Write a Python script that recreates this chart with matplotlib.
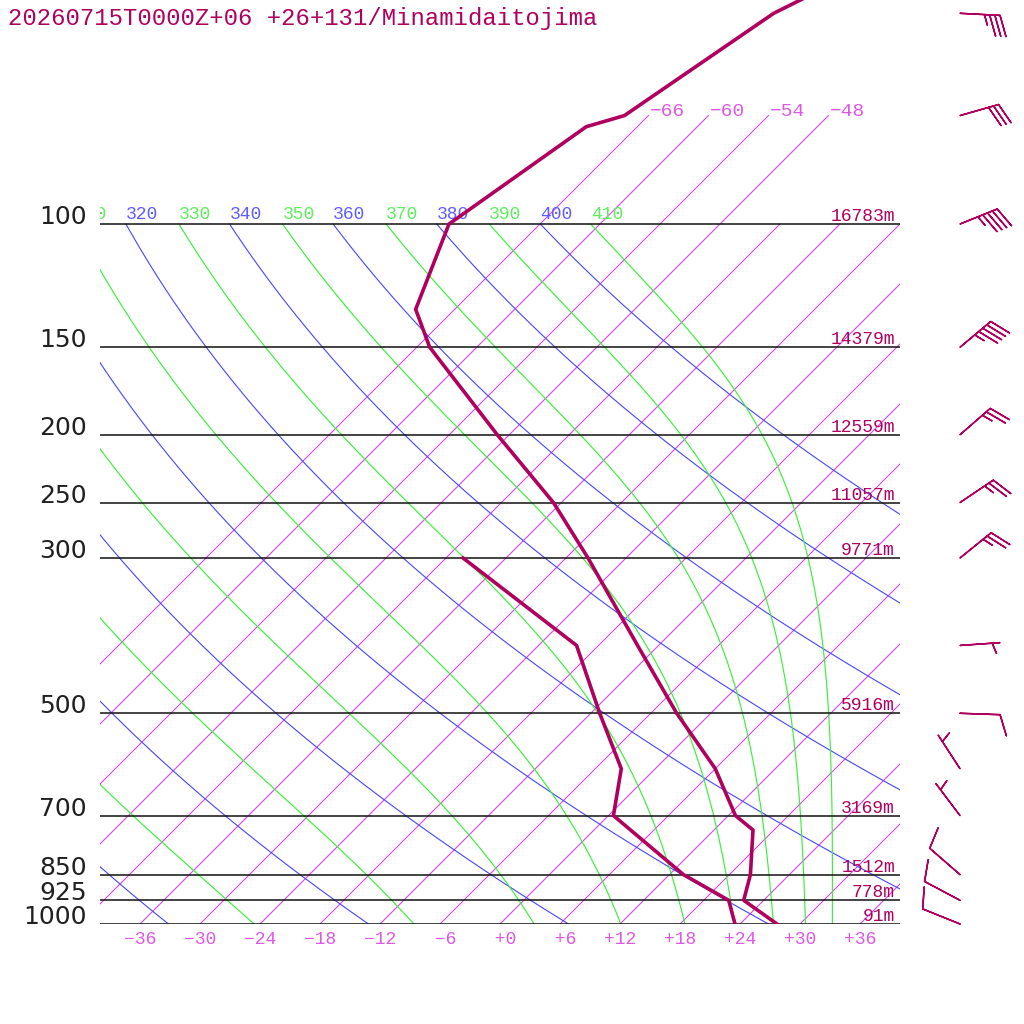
import numpy as np
import matplotlib
matplotlib.use("Agg")
import matplotlib.pyplot as plt
from matplotlib import transforms
from matplotlib.ticker import NullLocator

TITLE = "20260715T0000Z+06 +26+131/Minamidaitojima"

# sounding (hPa, degC)
TEMP_P = [1000, 925, 850, 734, 700, 600, 500, 400, 300, 250, 200, 150, 132.4, 100, 72.6, 70, 50, 30]
TEMP_C = [27.7, 22.0, 20.1, 15.9, 12.7, 6.0, -3.4, -14.1, -27.8, -36.8, -49.2, -64.7, -69.9, -75.1, -71.1, -68.4, -63.7, -48.0]
DEW_P = [1000, 925, 850, 700, 600, 500, 400, 300]
DEW_C = [23.5, 20.5, 13.4, 0.5, -3.4, -11.1, -20.2, -40.3]

# mandatory levels and geopotential heights (m)
LEVELS = [1000, 925, 850, 700, 500, 300, 250, 200, 150, 100]
HEIGHTS = [91, 778, 1512, 3169, 5916, 9771, 11057, 12559, 14379, 16783]

# winds: direction (deg, from), speed (kt)
WIND_P = [1000, 925, 850, 700, 600, 500, 400, 300, 250, 200, 150, 100, 70, 50]
WIND_DIR = [292, 298, 311, 323, 327, 92, 86, 51, 56, 49, 50, 68, 74, 93]
WIND_KT = [10, 10, 10, 5, 5, 10, 5, 25, 25, 25, 45, 45, 30, 35]

# background lines
ISOTHERMS = list(range(-66, 37, 6))
ISO_LABELLED = [-66, -60, -54, -48]
DRY_THETA = list(range(240, 401, 20))
MOIST_THETAE = list(range(250, 411, 20))
XTICKS = list(range(-36, 37, 6))

CRIMSON = "#B0005E"
ISO_COL = "#DA44EC"
ISO_TXT = "#DD58E4"
DRY_COL = "#4646FF"
DRY_TXT = "#5E5EFF"
WET_COL = "#3CF03C"
WET_TXT = "#5CF05C"
MONO = "Liberation Mono"

SKEW = 30.4          # degC per e-fold of pressure (45 deg isotherms)
P_TOP = 1000 * np.exp(-924 / 304)


def skew_x(t, p):
    return np.asarray(t, float) + SKEW * np.log(1000.0 / np.asarray(p, float))


def dry_adiabat(theta, p):
    return theta * (p / 1000.0) ** 0.2857 - 273.15


def thetae_sat(tk, p):
    # Bolton (1980) for a saturated parcel
    tc = tk - 273.15
    es = 6.112 * np.exp(17.67 * tc / (tc + 243.5))
    r = 0.622 * es / (p - es)
    return (tk * (1000.0 / p) ** (0.2854 * (1 - 0.28 * r))
            * np.exp((3.376 / tk - 0.00254) * r * 1000 * (1 + 0.81 * r)))


def moist_adiabat(thetae, p):
    lo = np.full_like(p, 150.0)
    hi = np.full_like(p, 310.0)
    for _ in range(60):
        mid = 0.5 * (lo + hi)
        above = thetae_sat(mid, p) > thetae
        hi = np.where(above, mid, hi)
        lo = np.where(above, lo, mid)
    return 0.5 * (lo + hi) - 273.15


def top_label(ax, x, text, color, trans):
    # labels sit on the 100 hPa line; the ones left of the frame are clipped
    if x < -44:
        return
    ax.text(x, 100, text, transform=trans, color=color, family=MONO,
            fontsize=13, ha="left", va="baseline", clip_on=True)


def main():
    fig = plt.figure(figsize=(10.24, 10.24), dpi=100)
    ax = fig.add_axes([100 / 1024, 100 / 1024, 800 / 1024, 924 / 1024])
    ax.set_yscale("log")
    ax.set_ylim(1000, P_TOP)
    ax.set_xlim(-40, 40)
    for s in ax.spines.values():
        s.set_visible(False)

    up5 = transforms.offset_copy(ax.transData, fig=fig, x=0, y=5, units="dots")
    up3 = transforms.offset_copy(ax.transData, fig=fig, x=0, y=3, units="dots")

    # isotherms
    for t in ISOTHERMS:
        ptop = 70 if t in ISO_LABELLED else 100
        pp = np.array([1000, ptop])
        ax.plot(skew_x([t, t], pp), pp, color=ISO_COL, lw=0.8, zorder=1)
    for t in ISO_LABELLED:
        ax.text(skew_x(t, 70) + 0.1, 70, f"{t:+d}".replace("-", "\u2212"),
                color=ISO_TXT, family=MONO, fontsize=14, ha="left", va="baseline")

    pgrid = np.geomspace(1000, 100, 240)
    # dry adiabats
    for th in DRY_THETA:
        ax.plot(skew_x(dry_adiabat(th, pgrid), pgrid), pgrid, color=DRY_COL, lw=0.8, zorder=2)
        top_label(ax, float(skew_x(dry_adiabat(th, 100.0), 100)), str(th), DRY_TXT, up5)
    # saturated adiabats
    for th in MOIST_THETAE:
        tm = moist_adiabat(th, pgrid)
        ax.plot(skew_x(tm, pgrid), pgrid, color=WET_COL, lw=0.85, zorder=2)
        top_label(ax, float(skew_x(tm[-1], 100)), str(th), WET_TXT, up5)

    # pressure levels and heights
    for p, h in zip(LEVELS, HEIGHTS):
        ax.axhline(p, color="#111111", lw=1.1, zorder=3)
        ax.text(39.5, p, f"{h}m", transform=up3, color=CRIMSON, family=MONO,
                fontsize=13, ha="right", va="baseline", zorder=4)

    # profiles
    ax.plot(skew_x(TEMP_C, TEMP_P), TEMP_P, color=CRIMSON, lw=2.6, zorder=5)
    ax.plot(skew_x(DEW_C, DEW_P), DEW_P, color=CRIMSON, lw=2.6, zorder=5)

    # wind barbs
    wd = np.deg2rad(WIND_DIR)
    spd = np.array(WIND_KT, float)
    u = -spd * np.sin(wd)
    v = -spd * np.cos(wd)
    ax.barbs(np.full(len(WIND_P), 46.0), WIND_P, u, v, length=7.6,
             color=CRIMSON, linewidth=1.1, clip_on=False, zorder=6,
             sizes=dict(spacing=0.13, height=0.52, width=0.35))

    # axes labels
    ax.set_yticks(LEVELS)
    ax.set_yticklabels([str(p) for p in LEVELS])
    ax.yaxis.set_minor_locator(NullLocator())
    ax.tick_params(axis="y", length=0, pad=9.5, labelsize=18, labelcolor="#202020")
    for lbl in ax.get_yticklabels():
        lbl.set_family("DejaVu Sans")
        lbl.set_verticalalignment("baseline")

    ax.set_xticks(XTICKS)
    ax.set_xticklabels([f"{t:+3d}".replace("-", "\u2212") for t in XTICKS])
    ax.tick_params(axis="x", length=0, pad=5, labelsize=13, labelcolor=ISO_TXT)
    for lbl in ax.get_xticklabels():
        lbl.set_family(MONO)

    fig.text(8 / 1024, 1 - 25 / 1024, TITLE, color=CRIMSON, family=MONO,
             fontsize=17.2, ha="left", va="baseline")

    fig.savefig("out.png", dpi=100)


if __name__ == "__main__":
    main()
